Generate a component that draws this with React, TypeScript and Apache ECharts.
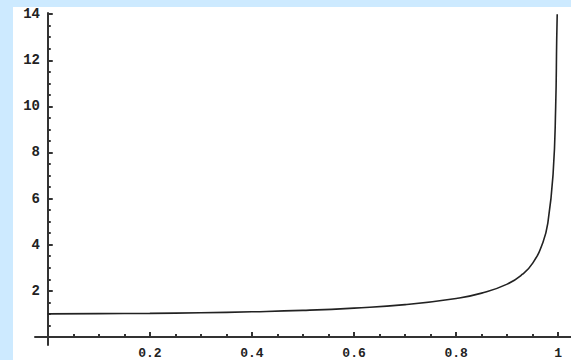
import React, { useEffect, useRef } from "react";
import * as echarts from "echarts";

const xValues = [0, 0.1, 0.2, 0.3, 0.4, 0.5, 0.6, 0.7, 0.8, 0.85, 0.9, 0.93, 0.95, 0.97, 0.98, 0.99, 0.995, 0.997, 0.998];
const yValues = [1.0, 1.01, 1.02, 1.05, 1.09, 1.15, 1.25, 1.4, 1.67, 1.9, 2.29, 2.72, 3.2, 4.1, 5.0, 7.1, 10.0, 12.9, 14];
const xMajorTicks = [0.2, 0.4, 0.6, 0.8, 1];
const xMinorTicks = [0.05, 0.1, 0.15, 0.25, 0.3, 0.35, 0.45, 0.5, 0.55, 0.65, 0.7, 0.75, 0.85, 0.9, 0.95];
const yMajorTicks = [2, 4, 6, 8, 10, 12, 14];
const yMinorTicks = [0.5, 1, 1.5, 2.5, 3, 3.5, 4.5, 5, 5.5, 6.5, 7, 7.5, 8.5, 9, 9.5, 10.5, 11, 11.5, 12.5, 13, 13.5];

const font = { fontFamily: "Liberation Mono", fontWeight: "bold" as const, color: "#222" };

export default function App() {
  const ref = useRef<HTMLDivElement>(null);
  useEffect(() => {
    const chart = echarts.init(ref.current!, null, { renderer: "svg" });
    const axisLineStyle = { color: "#333", width: 2 };
    chart.setOption({
      animation: false,
      backgroundColor: "#ffffff",
      grid: { left: 22, top: 6, right: 0, bottom: 15, containLabel: false, outerBoundsMode: "none" },
      xAxis: [
        {
          type: "value",
          min: -0.025,
          max: 1.025,
          axisLine: { show: true, onZero: true, lineStyle: axisLineStyle },
          axisTick: { show: true, inside: true, length: 3, customValues: xMinorTicks, lineStyle: { color: "#333", width: 2 } },
          axisLabel: { show: true, customValues: xMajorTicks, margin: 2, fontSize: 13, ...font, formatter: (v: number) => String(v) },
          splitLine: { show: false },
        },
        {
          type: "value",
          min: -0.025,
          max: 1.025,
          position: "bottom",
          axisLine: { show: false, onZero: true },
          axisTick: { show: true, inside: true, length: 5, customValues: xMajorTicks, lineStyle: { color: "#333", width: 2 } },
          axisLabel: { show: false },
          splitLine: { show: false },
        },
      ],
      yAxis: [
        {
          type: "value",
          min: -0.35,
          max: 14.05,
          axisLine: { show: true, onZero: true, lineStyle: axisLineStyle },
          axisTick: { show: true, inside: true, length: 3, customValues: yMinorTicks, lineStyle: { color: "#333", width: 2 } },
          axisLabel: { show: true, customValues: yMajorTicks, margin: -5, fontSize: 14, ...font },
          splitLine: { show: false },
        },
        {
          type: "value",
          min: -0.35,
          max: 14.05,
          position: "left",
          axisLine: { show: false, onZero: true },
          axisTick: { show: true, inside: true, length: 5, customValues: yMajorTicks, lineStyle: { color: "#333", width: 2 } },
          axisLabel: { show: false },
          splitLine: { show: false },
        },
      ],
      series: [
        {
          type: "line",
          data: xValues.map((x, i) => [x, yValues[i]]),
          smooth: true,
          showSymbol: false,
          lineStyle: { color: "#222", width: 1.6 },
        },
      ],
    });
    return () => chart.dispose();
  }, []);
  return (
    <div style={{ position: "fixed", left: 0, top: 0, width: 571, height: 360, background: "#cdeaff" }}>
      <div ref={ref} style={{ position: "absolute", left: 13, top: 7, width: 558, height: 353 }} />
    </div>
  );
}
